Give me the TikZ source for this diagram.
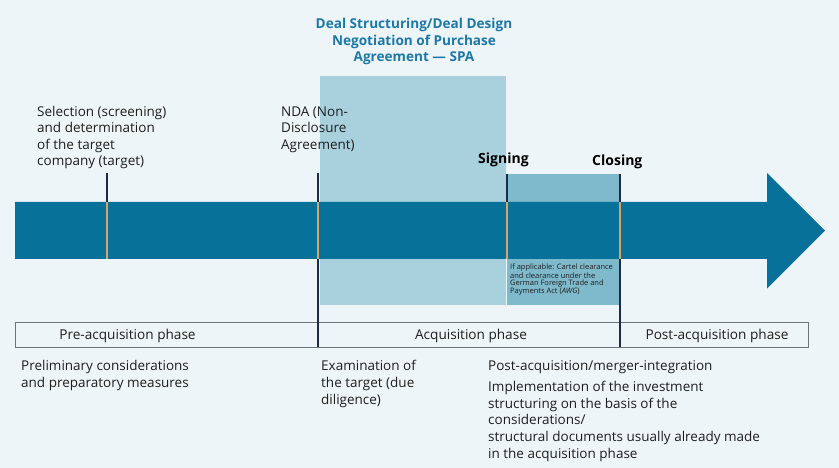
\documentclass[tikz,border=0pt]{standalone}
\usepackage{fontspec}
\setmainfont{Open Sans}
\definecolor{bgc}{HTML}{EEF5F9}
\definecolor{barc}{HTML}{08719A}
\definecolor{lightbox}{HTML}{A9D1DD}
\definecolor{midbox}{HTML}{7FB9CC}
\definecolor{navy}{HTML}{1C2B4B}
\definecolor{tick}{HTML}{D9A36A}
\definecolor{titlec}{HTML}{1B78A8}
\definecolor{framec}{HTML}{6B747A}
\definecolor{txt}{HTML}{1E1E1E}
\begin{document}
\begin{tikzpicture}[x=1pt,y=-1pt,
  body/.style={inner sep=0pt, align=left, anchor=base west, text=txt, font=\fontsize{13.5}{16.6}\selectfont},
  boldlbl/.style={inner sep=0pt, anchor=base west, text=black, font=\bfseries\fontsize{14}{16}\selectfont},
  phaselbl/.style={inner sep=0pt, anchor=base, text=txt, font=\fontsize{13.6}{15}\selectfont},
  phasebox/.style={draw=framec, line width=0.8pt, fill=bgc, inner sep=0pt, anchor=north west, minimum height=25.5pt},
  navyline/.style={navy, line width=2pt},
  tickline/.style={tick, line width=2pt}]
\useasboundingbox[fill=bgc] (0,0) rectangle (839,468);

% background boxes
\node[fill=lightbox, inner sep=0pt, minimum width=186pt, minimum height=229pt, anchor=north west] (deal) at (320,76) {};
\node[fill=midbox, inner sep=0pt, minimum width=113pt, minimum height=131pt, anchor=north west] (sigbox) at (507,174) {};

% main arrow
\fill[barc] (15,202) -- (767,202) -- (767,173) -- (825,230.5) -- (767,288.5) -- (767,259) -- (15,259) -- cycle;

% phase boxes
\node[phasebox, minimum width=303pt] (pre) at (15,321.5) {};
\node[phasebox, minimum width=302pt] (acq) at (318,321.5) {};
\node[phasebox, minimum width=188pt] (post) at (620,321.5) {};
\node[phaselbl] (preL) at (127.5,339.5) {Pre-acquisition phase};
\node[phaselbl] (acqL) at (471,339.5) {Acquisition phase};
\node[phaselbl] (postL) at (717,339.5) {Post-acquisition phase};

% ticks
\coordinate (t1a) at (106.5,173); \coordinate (t1b) at (106.5,202); \coordinate (t1c) at (106.5,259);
\coordinate (t2a) at (318,173); \coordinate (t2b) at (318,202); \coordinate (t2c) at (318,259); \coordinate (t2d) at (318,347);
\coordinate (t3a) at (507,174); \coordinate (t3b) at (507,202); \coordinate (t3c) at (507,259);
\coordinate (t4a) at (620,174); \coordinate (t4b) at (620,202); \coordinate (t4c) at (620,259); \coordinate (t4d) at (620,347);
\draw[navyline] (t1a) -- (t1b);
\draw[navyline] (t2a) -- (t2b);
\draw[navyline] (t3a) -- (t3b);
\draw[navyline] (t4a) -- (t4b);
\draw[navyline] (t2c) -- (t2d);
\draw[navyline] (t4c) -- (t4d);
\draw[tickline] (t1b) -- (t1c);
\draw[tickline] (t2b) -- (t2c);
\draw[tickline] (t3b) -- (t3c);
\draw[tickline] (t4b) -- (t4c);

% top texts (base anchor = baseline of last line)
\node[inner sep=0pt, anchor=base, align=center, text=titlec, font=\bfseries\fontsize{13.6}{16.5}\selectfont] (title) at (414,62) {Deal Structuring/Deal Design\\Negotiation of Purchase\\Agreement — SPA};
\node[body] (sel) at (37,166) {Selection (screening)\\and determination\\of the target\\company (target)};
\node[body] (nda) at (281,149.5) {NDA (Non-\\Disclosure\\Agreement)};
\node[boldlbl] (sign) at (478,164) {Signing};
\node[boldlbl] (clos) at (592,166) {Closing};
\node[inner sep=0pt, anchor=base west, align=left, text=txt, font=\fontsize{7.5}{7.4}\selectfont] (awg) at (510,293) {If applicable: Cartel clearance\\and clearance under the\\German Foreign Trade and\\Payments Act (\textit{AWG})};

% bottom texts
\node[body] (prel) at (21,387) {Preliminary considerations\\and preparatory measures};
\node[body] (exam) at (321,404) {Examination of\\the target (due\\diligence)};
\node[body] (pmi) at (488,370) {Post-acquisition/merger-integration};
\node[body] (impl) at (488,458) {Implementation of the investment\\structuring on the basis of the\\considerations/\\structural documents usually already made\\in the acquisition phase};
\end{tikzpicture}
\end{document}
